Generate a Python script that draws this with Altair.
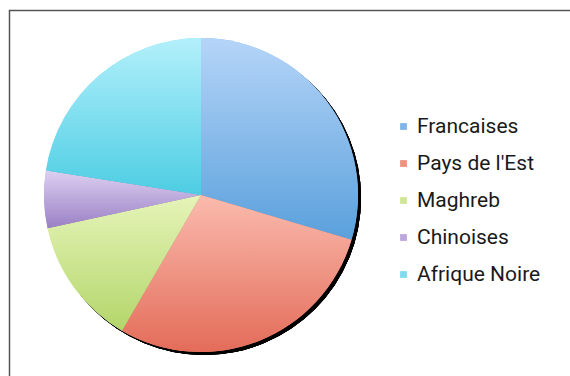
import altair as alt
import pandas as pd

categories = ["Francaises", "Pays de l'Est", "Maghreb", "Chinoises", "Afrique Noire"]
values = [29.6, 28.8, 13.2, 5.9, 22.5]
solid_colors = ["#7fb5e8", "#f0907f", "#cfe697", "#bba6de", "#7fdcef"]
grad_top = ["#b5d5f8", "#fabbae", "#e6f4b9", "#ddd0f2", "#b3f0fb"]
grad_bottom = ["#5aa0dc", "#e46c59", "#b3d66a", "#9a80c4", "#4dcde3"]

df = pd.DataFrame({"cat": categories, "value": values, "idx": list(range(len(categories)))})

CX, CY, R = 201, 195, 157

base = alt.Chart(df)

shadow = base.mark_arc(theta=0, theta2=6.2832, radius=R, color="black").encode(
    x=alt.value(CX + 3), y=alt.value(CY + 3)
)

pie_legend = base.mark_arc(radius=R, stroke=None).encode(
    theta=alt.Theta("value:Q", stack=True),
    order=alt.Order("idx:Q"),
    color=alt.Color(
        "cat:N",
        scale=alt.Scale(domain=categories, range=solid_colors),
        sort=categories,
        legend=alt.Legend(
            title=None,
            orient="none",
            legendX=393,
            legendY=116,
            symbolType="square",
            symbolSize=46,
            symbolStrokeWidth=0,
            labelFont="Roboto",
            labelFontSize=21,
            labelColor="#1a1a1a",
            labelOffset=3,
            rowPadding=15,
            padding=0,
        ),
    ),
    x=alt.value(CX),
    y=alt.value(CY),
)

conditions = []
for c, t, b in zip(categories, grad_top, grad_bottom):
    cc = c.replace("'", "\\'")
    conditions.append({
        "test": f"datum.cat === '{cc}'",
        "value": {
            "gradient": "linear",
            "x1": 0, "x2": 0, "y1": 0, "y2": 1,
            "stops": [{"offset": 0, "color": t}, {"offset": 1, "color": b}],
        },
    })

pie_grad = base.mark_arc(radius=R, stroke=None).encode(
    theta=alt.Theta("value:Q", stack=True),
    order=alt.Order("idx:Q"),
    color={"condition": conditions, "value": "#999999"},
    x=alt.value(CX),
    y=alt.value(CY),
)

frame = alt.Chart(pd.DataFrame({"a": [0]})).mark_rect(
    fill=None, stroke="#555555", strokeWidth=1.5
).encode(
    x=alt.value(9.5), x2=alt.value(700), y=alt.value(10.5), y2=alt.value(500)
)

chart = alt.layer(frame, shadow, pie_legend, pie_grad).properties(
    width=570, height=376,
    autosize=alt.AutoSizeParams(type="none"),
    padding=0,
    background="white",
).configure_view(stroke=None)

chart.save("out.html", embed_options={"renderer": "svg", "actions": False})
